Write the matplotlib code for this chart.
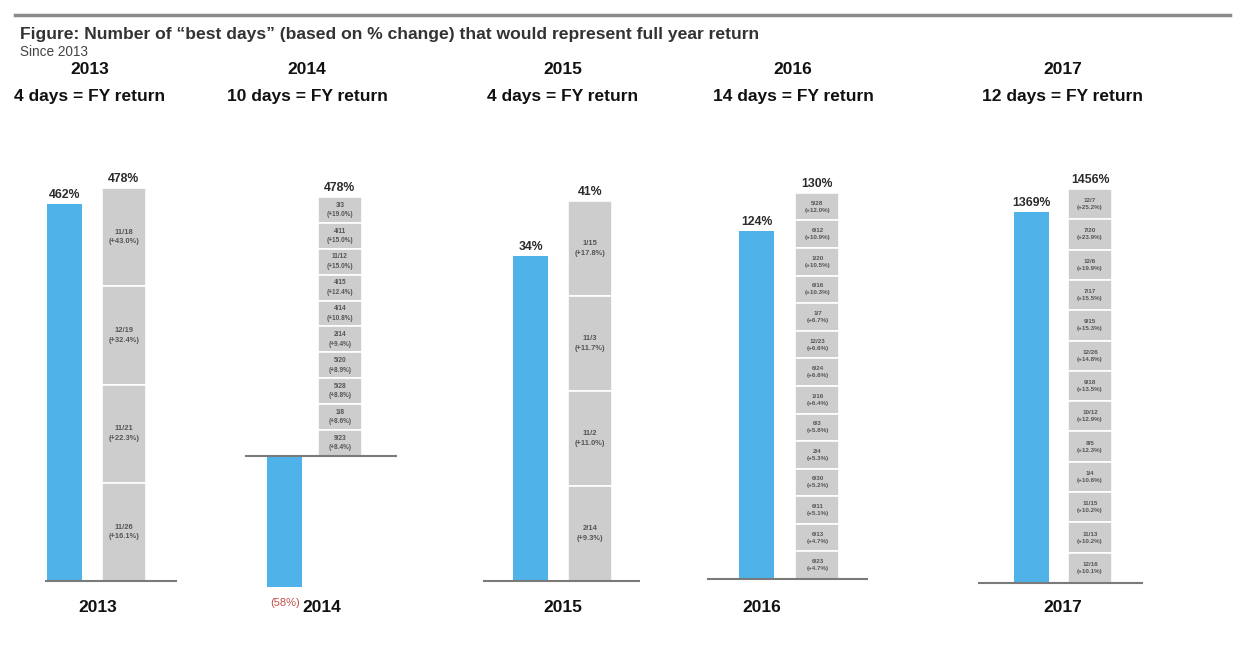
import matplotlib
matplotlib.use("Agg")
import matplotlib.pyplot as plt

# ---------------- data ----------------
years = [2013, 2014, 2015, 2016, 2017]
days_needed = [4, 10, 4, 14, 12]
fy_return = [462, -58, 34, 124, 1369]          # blue bars, %
best_days_total = [478, 478, 41, 130, 1456]    # gray stacks, %

dates_2013 = ["11/18", "12/19", "11/21", "11/26"]
gains_2013 = [43.0, 32.4, 22.3, 16.1]
dates_2014 = ["3/3", "4/11", "11/12", "4/15", "4/14", "2/14", "5/20", "5/28", "1/8", "9/23"]
gains_2014 = [19.0, 15.0, 15.0, 12.4, 10.8, 9.4, 8.9, 8.8, 8.6, 8.4]
dates_2015 = ["1/15", "11/3", "11/2", "2/14"]
gains_2015 = [17.8, 11.7, 11.0, 9.3]
dates_2016 = ["5/28", "6/12", "1/20", "6/16", "1/7", "12/23", "6/24", "1/16", "6/3", "2/4", "6/30", "6/11", "6/13", "6/23"]
gains_2016 = [12.0, 10.9, 10.5, 10.3, 6.7, 6.6, 6.6, 6.4, 5.8, 5.3, 5.2, 5.1, 4.7, 4.7]
dates_2017 = ["12/7", "7/20", "12/6", "7/17", "9/15", "12/26", "9/18", "10/12", "8/5", "1/4", "11/15", "11/13", "12/16"]
gains_2017 = [25.2, 23.9, 19.9, 15.5, 15.3, 14.8, 13.5, 12.9, 12.3, 10.6, 10.2, 10.2, 10.1]

best_dates = [dates_2013, dates_2014, dates_2015, dates_2016, dates_2017]
best_gains = [gains_2013, gains_2014, gains_2015, gains_2016, gains_2017]

# ---------------- layout (pixels) ----------------
W, H = 1242, 671
base_px = [581, 456, 581, 579, 583]
line_l = [45, 245, 483, 707, 978]
line_r = [177, 397, 640, 868, 1143]
blue_c = [64.5, 284.5, 530.5, 756.5, 1031]
gray_c = [124, 340, 590, 817.5, 1090]
ppu_blue = [0.816, 2.26, 9.56, 2.81, 0.271]
ppu_gray = [0.822, 0.542, 9.27, 2.97, 0.2706]
head_x = [90, 307, 563, 793, 1063]
foot_x = [98, 322, 563, 762, 1063]
AX_TOP, AX_BOT = 140, 640

BLUE = "#4FB2E8"
GRAY = "#CDCDCD"
TXT = "#2b2b2b"
NARROW = ["Liberation Sans Narrow", "Liberation Sans", "DejaVu Sans"]
SANS = ["Liberation Sans", "DejaVu Sans"]

fig = plt.figure(figsize=(W / 100, H / 100), dpi=100)
fig.patch.set_facecolor("white")


def fx(p):
    return p / W


def fy(p):
    return 1 - p / H


# top rule
fig.add_artist(plt.Line2D([fx(15), fx(1230)], [fy(15), fy(15)], color="#8a8a8a", lw=2.5))
fig.text(fx(20), fy(35), "Figure: Number of \u201cbest days\u201d (based on % change) that would represent full year return",
         fontsize=12.6, fontweight="bold", color="#333333", family=SANS, va="center", ha="left")
fig.text(fx(20), fy(52), "Since 2013", fontsize=9.8, color="#444444", family=SANS, va="center", ha="left")

for i, yr in enumerate(years):
    ax = fig.add_axes([fx(line_l[i]), fy(AX_BOT), fx(line_r[i] - line_l[i]), (AX_BOT - AX_TOP) / H])
    ax.set_xlim(line_l[i], line_r[i])
    b = base_px[i]
    ax.set_ylim(-(AX_BOT - b) / ppu_blue[i], (b - AX_TOP) / ppu_blue[i])
    ax.axis("off")
    ax2 = ax.twinx()
    ax2.set_ylim(-(AX_BOT - b) / ppu_gray[i], (b - AX_TOP) / ppu_gray[i])
    ax2.axis("off")

    # blue bar
    v = fy_return[i]
    ax.bar(blue_c[i], v, width=35, color=BLUE, zorder=2)
    if v >= 0:
        ax.annotate(f"{v}%", (blue_c[i], v), xytext=(0, 2), textcoords="offset points",
                    ha="center", va="bottom", fontsize=8.8, fontweight="bold", color=TXT, family=NARROW)
    else:
        ax.annotate(f"({abs(v)}%)", (blue_c[i] + 1, v), xytext=(0, -8), textcoords="offset points",
                    ha="center", va="top", fontsize=8, color="#C0504D", family=NARROW)

    # gray stack of equal segments (one per best day)
    n = len(best_dates[i])
    total = best_days_total[i]
    seg = total / n
    fs = 5.4 if n <= 4 else (4.7 if n <= 12 else 4.5)
    for k in range(n):
        bottom = total - (k + 1) * seg
        ax2.bar(gray_c[i], seg, bottom=bottom, width=44, color=GRAY, edgecolor="white", linewidth=1.2, zorder=2)
        lab = f"{best_dates[i][k]}\n(+{best_gains[i][k]:.1f}%)"
        ax2.text(gray_c[i], bottom + seg / 2, lab, ha="center", va="center", fontsize=fs,
                 fontweight="bold", color="#555555", family=NARROW, linespacing=1.5, zorder=3)
    ax2.annotate(f"{total}%", (gray_c[i], total), xytext=(0, 2), textcoords="offset points",
                 ha="center", va="bottom", fontsize=8.8, fontweight="bold", color=TXT, family=NARROW)

    # baseline
    ax2.axhline(0, color="#7a7a7a", lw=1.5, zorder=5)

    # headers
    fig.text(fx(head_x[i]), fy(70), str(yr), ha="center", va="center", fontsize=12.5,
             fontweight="bold", color="#111111", family=NARROW)
    fig.text(fx(head_x[i]), fy(96), f"{days_needed[i]} days = FY return", ha="center", va="center",
             fontsize=12.5, fontweight="bold", color="#111111", family=NARROW)
    # footer year
    fig.text(fx(foot_x[i]), fy(607), str(yr), ha="center", va="center", fontsize=12.5,
             fontweight="bold", color="#111111", family=NARROW)

fig.savefig("out.png", dpi=100, facecolor="white")
